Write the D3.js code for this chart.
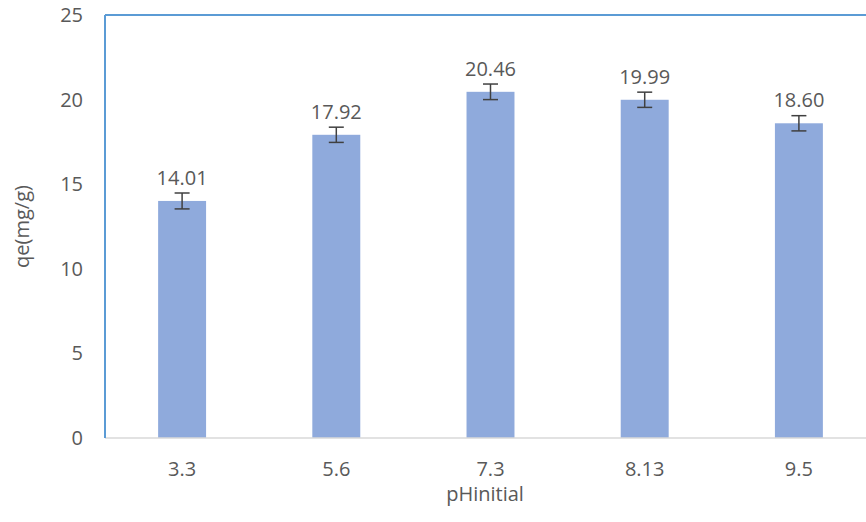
<!DOCTYPE html>
<html>
<head>
<meta charset="utf-8">
<script src="https://cdn.jsdelivr.net/npm/d3@7"></script>
<style>
  html, body { margin: 0; padding: 0; background: #fff; }
  svg { display: block; }
  text { font-family: "Open Sans", "Liberation Sans", sans-serif; fill: #595959; }
</style>
</head>
<body>
<script>
const categories = ["3.3", "5.6", "7.3", "8.13", "9.5"];
const values = [14.01, 17.92, 20.46, 19.99, 18.60];
const errors = [0.47, 0.45, 0.46, 0.45, 0.45];
const yTicks = [0, 5, 10, 15, 20, 25];

(function () {
const W = 866, H = 522;
const mLeft = 105, mRight = 876, mTop = 15, mBottom = 438;
const FS = "20px";

const svg = d3.select("body").append("svg").attr("width", W).attr("height", H);

const x = d3.scaleBand().domain(categories).range([mLeft, mRight]).padding(0);
const y = d3.scaleLinear().domain([0, 25]).range([mBottom, mTop]);
const barW = x.bandwidth() * 0.311;
const cx = c => x(c) + x.bandwidth() / 2;

// bars
svg.selectAll("rect.bar").data(values).enter().append("rect")
  .attr("class", "bar")
  .attr("x", (d, i) => cx(categories[i]) - barW / 2)
  .attr("y", d => y(d))
  .attr("width", barW)
  .attr("height", d => y(0) - y(d))
  .attr("fill", "#8FAADC");

// x axis line
svg.append("line").attr("x1", mLeft).attr("x2", W).attr("y1", y(0)).attr("y2", y(0))
  .attr("stroke", "#D9D9D9").attr("stroke-width", 1.5);

// frame (top and left) in blue
svg.append("line").attr("x1", mLeft).attr("x2", W).attr("y1", y(25)).attr("y2", y(25))
  .attr("stroke", "#5B9BD5").attr("stroke-width", 2);
svg.append("line").attr("x1", mLeft).attr("x2", mLeft).attr("y1", y(25)).attr("y2", y(0))
  .attr("stroke", "#5B9BD5").attr("stroke-width", 2);

// error bars
svg.selectAll("g.eb").data(values).enter().append("g").attr("class", "eb")
  .each(function (d, i) {
    const g = d3.select(this);
    const c = cx(categories[i]);
    const e = errors[i];
    g.append("line").attr("x1", c).attr("x2", c).attr("y1", y(d + e)).attr("y2", y(d - e))
      .attr("stroke", "#404040").attr("stroke-width", 1.5);
    [d + e, d - e].forEach(v => {
      g.append("line").attr("x1", c - 7.5).attr("x2", c + 7.5).attr("y1", y(v)).attr("y2", y(v))
        .attr("stroke", "#404040").attr("stroke-width", 1.5);
    });
  });

// value labels
svg.selectAll("text.val").data(values).enter().append("text")
  .attr("class", "val")
  .attr("x", (d, i) => cx(categories[i]))
  .attr("y", d => y(d) - 16)
  .attr("text-anchor", "middle")
  .style("font-size", FS)
  .text(d => d.toFixed(2));

// y tick labels
svg.selectAll("text.ytick").data(yTicks).enter().append("text")
  .attr("class", "ytick")
  .attr("x", 83)
  .attr("y", d => y(d))
  .attr("dy", "0.35em")
  .attr("text-anchor", "end")
  .style("font-size", FS)
  .text(d => d);

// x tick labels
svg.selectAll("text.xtick").data(categories).enter().append("text")
  .attr("class", "xtick")
  .attr("x", d => cx(d))
  .attr("y", 469)
  .attr("dy", "0.35em")
  .attr("text-anchor", "middle")
  .style("font-size", FS)
  .text(d => d);

// axis titles
svg.append("text").attr("x", 485).attr("y", 501)
  .attr("text-anchor", "middle").style("font-size", FS).text("pHinitial");
svg.append("text")
  .attr("transform", `translate(29, ${(mTop + mBottom) / 2}) rotate(-90)`)
  .attr("text-anchor", "middle").style("font-size", FS).text("qe(mg/g)");
})();
</script>
</body>
</html>
